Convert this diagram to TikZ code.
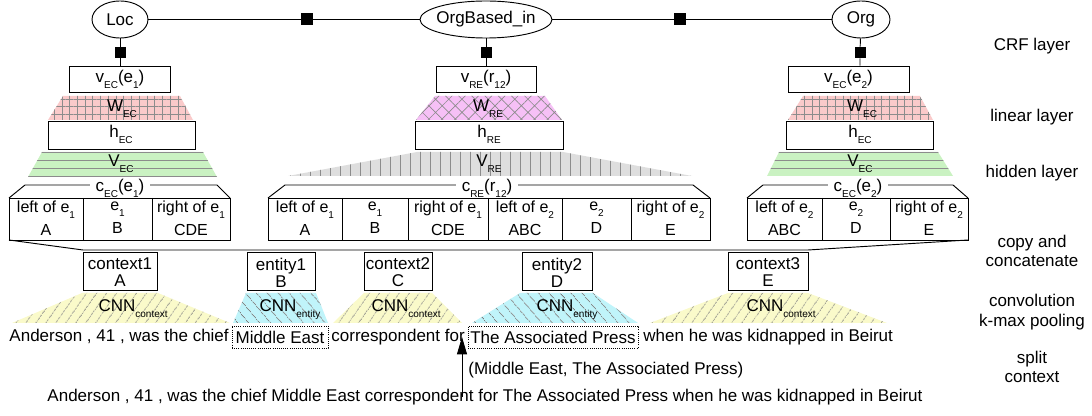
\documentclass[tikz,border=0pt]{standalone}
\usepackage{fontspec}
\setmainfont{Liberation Sans}
\usepackage{tikz}
\usetikzlibrary{shapes.geometric,patterns.meta,arrows.meta}

\definecolor{linpink}{RGB}{250,202,202}
\definecolor{relpink}{RGB}{246,192,246}
\definecolor{hidgreen}{RGB}{202,242,194}
\definecolor{hidgray}{RGB}{222,222,222}
\definecolor{cnnyellow}{RGB}{250,250,202}
\definecolor{cnncyan}{RGB}{192,244,250}
\definecolor{hatchgray}{RGB}{140,140,140}
\definecolor{cnnhatch}{RGB}{120,120,120}

\newcommand{\lsub}[1]{\raisebox{-4.5pt}{\fontsize{7.5}{8}\selectfont #1}}

\tikzset{
  lbl/.style={inner sep=0.75pt, anchor=base},
  crfnode/.style={draw, ellipse, inner sep=0pt, minimum height=27.75pt},
  factor/.style={fill=black, inner sep=0pt, minimum size=9pt},
  vbox/.style={draw, inner sep=0pt, minimum height=19.5pt},
  celltext/.style={inner sep=0.75pt, align=center, font=\fontsize{12}{17.25}\selectfont},
  ctxtext/.style={inner sep=0.75pt, align=center, font=\fontsize{12.75}{12.75}\selectfont},
  sidelbl/.style={inner sep=0.75pt, align=center, font=\fontsize{12.75}{14.6}\selectfont},
  wordbox/.style={draw, densely dotted, line width=0.6pt, inner sep=0pt, minimum height=16.5pt},
  linfill/.style={fill=linpink, postaction={pattern={Hatch[angle=0,distance=5.8pt,line width=0.5pt]}, pattern color=hatchgray}},
  relfill/.style={fill=relpink, postaction={pattern={Hatch[angle=45,distance=7pt,line width=0.5pt]}, pattern color=hatchgray}},
  hidfill/.style={fill=hidgreen, postaction={pattern={Lines[angle=0,distance=6pt,line width=0.6pt]}, pattern color=hatchgray}},
  hidrfill/.style={fill=hidgray, postaction={pattern={Lines[angle=90,distance=7.5pt,line width=0.5pt]}, pattern color=hatchgray}},
  ctxfill/.style={fill=cnnyellow, postaction={pattern={Lines[angle=55,distance=6.5pt,line width=0.6pt]}, pattern color=cnnhatch}},
  entfill/.style={fill=cnncyan, postaction={pattern={Lines[angle=-50,distance=6.5pt,line width=0.6pt]}, pattern color=cnnhatch}}
}

\begin{document}
\begin{tikzpicture}[x=0.75pt,y=0.75pt,yscale=-1,xscale=1,line width=0.7pt,font=\fontsize{12.75}{15}\selectfont]
\useasboundingbox (0,0) rectangle (1092,416);

%CRF layer
\node[crfnode, minimum width=42pt] (loc) at (120,19.5) {Loc};
\node[crfnode, minimum width=99pt, inner xsep=-6pt] (orgb) at (486,19.5) {OrgBased\_in};
\node[crfnode, minimum width=43.5pt] (org) at (861,19.5) {Org};
\node[factor] (fa) at (307,19.5) {};
\node[factor] (fb) at (680,19.5) {};
\draw (loc) -- (fa) -- (orgb) -- (fb) -- (org);

\node[vbox, minimum width=75.75pt] (ve1) at (120,79) {v\lsub{EC}(e\lsub{1})};
\node[vbox, minimum width=75pt] (vr) at (486,79) {v\lsub{RE}(r\lsub{12})};
\node[vbox, minimum width=90.75pt] (ve2) at (848.5,79) {v\lsub{EC}(e\lsub{2})};
\node[factor, minimum size=8.25pt] (fl) at (120,52.5) {};
\node[factor, minimum size=8.25pt] (fr) at (486,52.5) {};
\node[factor, minimum size=8.25pt] (fo) at (860,52.5) {};
\draw (loc) -- (fl) -- (ve1);
\draw (orgb) -- (fr) -- (vr);
\draw (org) -- (fo) -- (fo |- ve2.north);

%Shape: Trapezoid (linear layer)
\path[linfill] (63,96) -- (180,96) -- (193,120) -- (48,120) -- cycle;
\path[relfill] (435,96) -- (545,96) -- (562,120) -- (416,120) -- cycle;
\path[linfill] (803,96) -- (920,96) -- (933,120) -- (788,120) -- cycle;
% Text Node
\node[lbl] (we1) at (122,112) {W\lsub{EC}};
\node[lbl] (wr) at (488,112) {W\lsub{RE}};
\node[lbl] (we2) at (862,112) {W\lsub{EC}};

%Shape: Rectangle (h)
\draw (48,121) rectangle (195,149);
\draw (415,121) rectangle (563,149);
\draw (786,121) rectangle (933,149);
% Text Node
\node[lbl] (he1) at (121,138) {h\lsub{EC}};
\node[lbl] (hr) at (489,138) {h\lsub{RE}};
\node[lbl] (he2) at (860,138) {h\lsub{EC}};

%Shape: Trapezoid (hidden layer)
\path[hidfill] (42,152) -- (203,152) -- (217,177) -- (28,177) -- cycle;
\path[hidrfill] (417,152) -- (563,152) -- (692,176) -- (288,176) -- cycle;
\path[hidfill] (779,152) -- (938,152) -- (953,176) -- (767,176) -- cycle;
% Text Node
\node[lbl] (ve1t) at (121,167) {V\lsub{EC}};
\node[lbl] (vrt) at (489,167) {V\lsub{RE}};
\node[lbl] (ve2t) at (860,167) {V\lsub{EC}};

%Shape: Brackets
\draw (9,198) -- (25,185) -- (217,185) -- (230,198);
\draw (268,198) -- (285,185) -- (693,185) -- (710,198);
\draw (747,198) -- (763,185) -- (953,185) -- (968,198);
% Text Node
\node[lbl, fill=white, inner xsep=4pt] (ce1) at (120,192) {c\lsub{EC}(e\lsub{1})};
\node[lbl, fill=white, inner xsep=4pt] (cr) at (487,192) {c\lsub{RE}(r\lsub{12})};
\node[lbl, fill=white, inner xsep=4pt] (ce2) at (858,192) {c\lsub{EC}(e\lsub{2})};

%Shape: Rows
\draw (9,198) rectangle (230,240);
\draw (83,198) -- (83,240) (152,198) -- (152,240);
\draw (268,198) rectangle (710,240);
\draw (342,198) -- (342,240) (408,198) -- (408,240) (488,198) -- (488,240) (562,198) -- (562,240) (631,198) -- (631,240);
\draw (747,198) rectangle (968,240);
\draw (822,198) -- (822,240) (890,198) -- (890,240);
% Text Node
\node[celltext] (a1) at (46,218) {left of e\lsub{1}\\A};
\node[celltext] (a2) at (117.5,218) {e\lsub{1}\\B};
\node[celltext] (a3) at (191,218) {right of e\lsub{1}\\CDE};
\node[celltext] (b1) at (305,218) {left of e\lsub{1}\\A};
\node[celltext] (b2) at (375,218) {e\lsub{1}\\B};
\node[celltext] (b3) at (448,218) {right of e\lsub{1}\\CDE};
\node[celltext] (b4) at (525,218) {left of e\lsub{2}\\ABC};
\node[celltext] (b5) at (596.5,218) {e\lsub{2}\\D};
\node[celltext] (b6) at (670.5,218) {right of e\lsub{2}\\E};
\node[celltext] (c1) at (784.5,218) {left of e\lsub{2}\\ABC};
\node[celltext] (c2) at (856,218) {e\lsub{2}\\D};
\node[celltext] (c3) at (929,218) {right of e\lsub{2}\\E};

%Shape: Copy and concatenate
\draw (9,240) -- (83,250) -- (808,250) -- (968,240);

%Shape: Rectangle (split context)
\draw (83,252) rectangle (157,290);
\draw (247,252) rectangle (315,290);
\draw (364,252) rectangle (432,290);
\draw (522,252) rectangle (592,290);
\draw (728,252) rectangle (808,290);
% Text Node
\node[ctxtext] (x1) at (120,272.5) {context1\\A};
\node[ctxtext] (n1) at (281,272.5) {entity1\\B};
\node[ctxtext] (x2) at (398,272.5) {context2\\C};
\node[ctxtext] (n2) at (557,272.5) {entity2\\D};
\node[ctxtext] (x3) at (768,272.5) {context3\\E};

%Shape: Trapezoid (CNN)
\path[ctxfill] (82,293) -- (158,293) -- (230,323) -- (12,323) -- cycle;
\path[entfill] (246,293) -- (316,293) -- (328,323) -- (233,323) -- cycle;
\path[ctxfill] (364,293) -- (432,293) -- (462,323) -- (333,323) -- cycle;
\path[entfill] (520,293) -- (593,293) -- (638,323) -- (472,323) -- cycle;
\path[ctxfill] (728,293) -- (808,293) -- (887,323) -- (650,323) -- cycle;
% Text Node
\node[lbl] (k1) at (117,312) {CNN\rlap{\lsub{context}}};
\node[lbl] (k2) at (278,312) {CNN\rlap{\lsub{entity}}};
\node[lbl] (k3) at (390,312) {CNN\rlap{\lsub{context}}};
\node[lbl] (k4) at (555,312) {CNN\rlap{\lsub{entity}}};
\node[lbl] (k5) at (765,312) {CNN\rlap{\lsub{context}}};

% Text Node (sentence)
\node[lbl, anchor=base west] (s1) at (8,342) {Anderson , 41 , was the chief};
\node[wordbox, minimum width=72pt] (ent1) at (280,337) {Middle East};
\node[lbl, anchor=base west] (s2) at (330,342) {correspondent for};
\node[wordbox, minimum width=127.5pt] (ent2) at (553,337) {The Associated Press};
\node[lbl, anchor=base west] (s3) at (642,342) {when he was kidnapped in Beirut};

\node[lbl, anchor=base west] (pair) at (467,375) {(Middle East, The Associated Press)};
\node[lbl] (src) at (485,402) {Anderson , 41 , was the chief Middle East correspondent for The Associated Press when he was kidnapped in Beirut};
\coordinate (splitpt) at (462,337);
\coordinate (srcpt) at (462,397);
\draw[-{Triangle[length=13pt,width=7.5pt]}] (srcpt) -- (splitpt);

% Text Node (layers)
\node[lbl] (crf) at (1032,51) {CRF layer};
\node[lbl] (lin) at (1032,122) {linear layer};
\node[lbl] (hid) at (1032,178) {hidden layer};
\node[sidelbl] (cc) at (1032,251) {copy and\\concatenate};
\node[sidelbl] (cv) at (1032,312) {convolution\\k-max pooling};
\node[sidelbl] (sp) at (1032,367) {split\\context};
\end{tikzpicture}
\end{document}
